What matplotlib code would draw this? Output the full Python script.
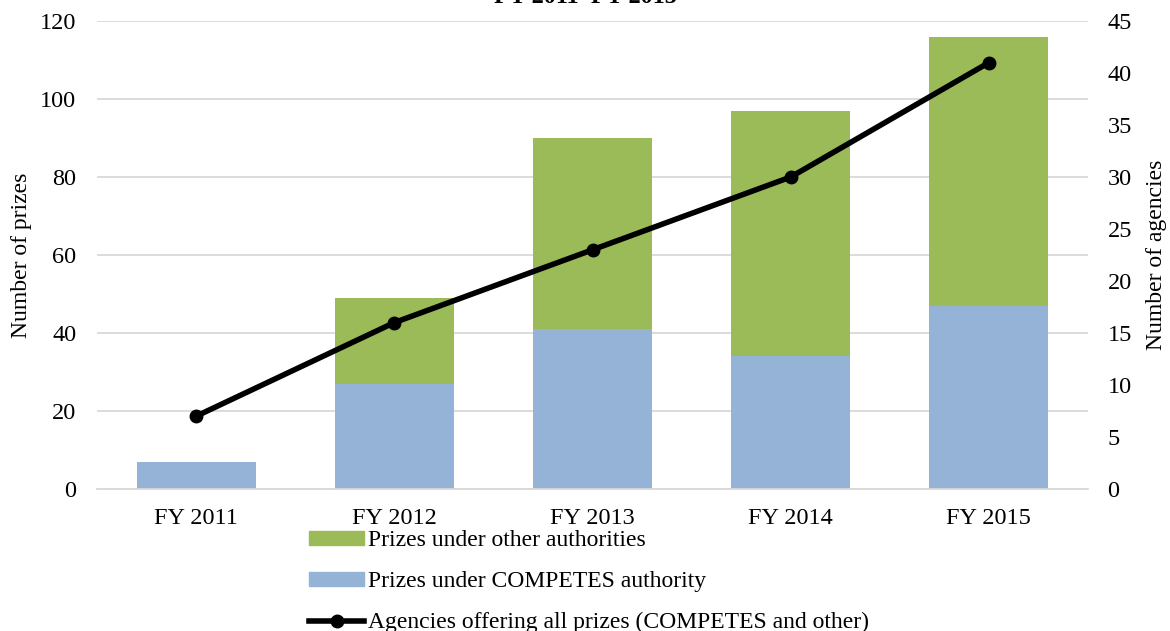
import matplotlib.pyplot as plt
from matplotlib.lines import Line2D
from matplotlib.patches import Patch

years = ["FY 2011", "FY 2012", "FY 2013", "FY 2014", "FY 2015"]
competes = [7, 27, 41, 34, 47]
other = [0, 22, 49, 63, 69]
agencies = [7, 16, 23, 30, 41]

green = "#9BBB59"
blue = "#95B3D7"
grid_c = "#D9D9D9"

plt.rcParams['font.family'] = ['Liberation Serif', 'DejaVu Serif']
plt.rcParams['font.size'] = 17.5

fig = plt.figure(figsize=(11.7, 6.31), dpi=100)
ax = fig.add_axes([97/1170, 1 - 489/631, (1088-97)/1170, (489-21)/631])
ax2 = ax.twinx()

x = list(range(len(years)))
ax.bar(x, competes, width=0.6, color=blue, zorder=2)
ax.bar(x, other, width=0.6, bottom=competes, color=green, zorder=2)
ax2.plot(x, agencies, color="black", lw=4, marker="o", ms=9, zorder=3)

ax.set_xlim(-0.5, 4.5)
ax.set_ylim(0, 120)
ax.set_yticks(range(0, 121, 20))
ax2.set_ylim(0, 45)
ax2.set_yticks(range(0, 46, 5))
ax.set_xticks(x)
ax.set_xticklabels(years)

ax.yaxis.grid(True, color=grid_c, lw=1.3, zorder=0)
ax.set_axisbelow(True)
for a in (ax, ax2):
  for s in a.spines.values():
    s.set_visible(False)
  a.tick_params(length=0)
ax.spines['bottom'].set_visible(True)
ax.spines['bottom'].set_color(grid_c)
ax.spines['bottom'].set_linewidth(1.3)
ax.tick_params(axis='y', pad=15)
ax.tick_params(axis='x', pad=14)
ax2.tick_params(axis='y', pad=14)

ax.set_ylabel("Number of prizes", fontsize=17)
ax2.set_ylabel("Number of agencies", fontsize=17)
ax.yaxis.set_label_coords((32 - 97) / 991, 0.5)
ax2.yaxis.set_label_coords((1146 - 97) / 991, 0.5)

fig.text(0.5, 1 - 3/631, "FY 2011\u2013FY 2015", ha='center', va='baseline',
         fontweight='bold')

handles = [
  Patch(color=green),
  Patch(color=blue),
  Line2D([], [], color="black", lw=4, marker="o", ms=9),
]
labels = [
  "Prizes under other authorities",
  "Prizes under COMPETES authority",
  "Agencies offering all prizes (COMPETES and other)",
]
fig.legend(handles, labels, loc='upper left', bbox_to_anchor=(309/1170, 1 - 530/631),
           frameon=False, handlelength=2.35, handleheight=0.55, handletextpad=0.15,
           labelspacing=0.85, borderpad=0, borderaxespad=0, fontsize=17)

fig.savefig("out.png", dpi=100)
